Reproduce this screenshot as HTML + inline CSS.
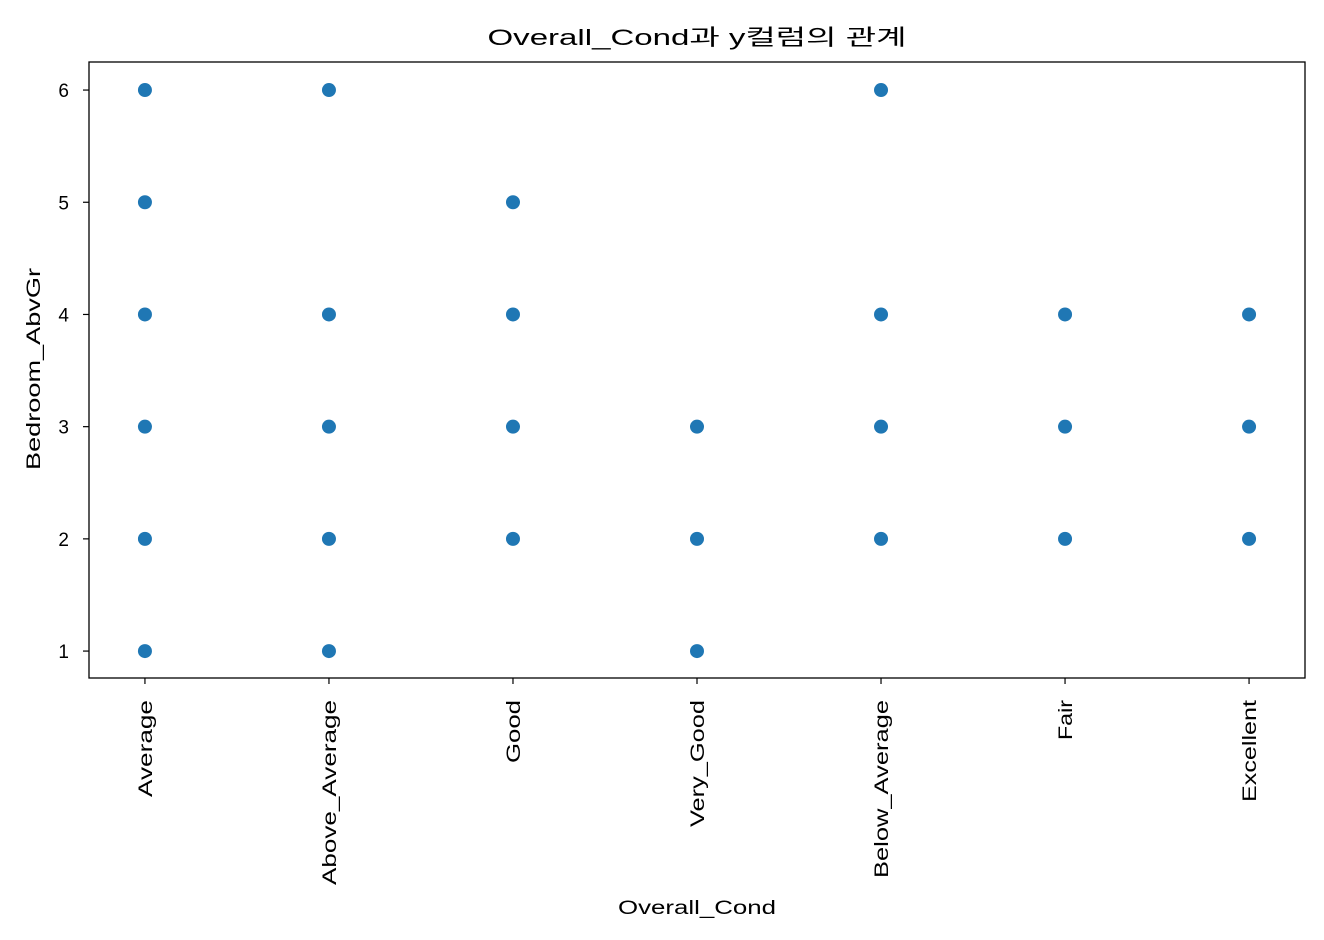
<!DOCTYPE html>
<html><head><meta charset="utf-8">
<style>
html,body{margin:0;padding:0;background:#fff;}
svg{display:block;font-family:"Liberation Sans","Noto Sans CJK KR",sans-serif;}
</style></head>
<body>
<svg id="chart" width="1324" height="940">
<text x="697" y="45" text-anchor="middle" font-size="22" textLength="419" lengthAdjust="spacingAndGlyphs" fill="#000">Overall_Cond과 y컬럼의 관계</text>
<text x="697" y="914" text-anchor="middle" font-size="19" textLength="158" lengthAdjust="spacingAndGlyphs" fill="#000">Overall_Cond</text>
<text transform="translate(40,369) rotate(-90)" text-anchor="middle" font-size="19" textLength="202" lengthAdjust="spacingAndGlyphs" fill="#000">Bedroom_AbvGr</text>
<g id="ticks"></g>
<g id="points"></g>
<rect x="89" y="62" width="1216" height="616" fill="none" stroke="#000" stroke-width="1.3"/>
</svg>
<script>
const categories = ["Average","Above_Average","Good","Very_Good","Below_Average","Fair","Excellent"];
const pointCats = [0,0,0,0,0,0, 1,1,1,1,1, 2,2,2,2, 3,3,3, 4,4,4,4, 5,5,5, 6,6,6];
const pointVals = [1,2,3,4,5,6, 1,2,3,4,6, 2,3,4,5, 1,2,3, 2,3,4,6, 2,3,4, 2,3,4];
const yTicks = [1,2,3,4,5,6];

const L=89,R=1305,T=62,B=678;
const xMin=-0.304,xMax=6.304,yMin=0.76,yMax=6.25;
const xs=v=>L+(v-xMin)/(xMax-xMin)*(R-L);
const ys=v=>B-(v-yMin)/(yMax-yMin)*(B-T);
const NS="http://www.w3.org/2000/svg";
const tg=document.getElementById('ticks'), pg=document.getElementById('points');
const labelWidthStyle={"Average":97,"Above_Average":185,"Good":63,"Very_Good":127,"Below_Average":178,"Fair":40,"Excellent":102};

categories.forEach((c,i)=>{
  const x=xs(i);
  const l=document.createElementNS(NS,'line');
  l.setAttribute('x1',x);l.setAttribute('x2',x);l.setAttribute('y1',B);l.setAttribute('y2',B+6);
  l.setAttribute('stroke','#000');l.setAttribute('stroke-width','1.2');
  
  
  tg.appendChild(l);
  const t=document.createElementNS(NS,'text');
  t.setAttribute('transform',`translate(${x+7},${B+22}) rotate(-90)`);
  t.setAttribute('text-anchor','end');t.setAttribute('font-size','19');
  if(labelWidthStyle[c]){t.setAttribute('textLength',labelWidthStyle[c]);t.setAttribute('lengthAdjust','spacingAndGlyphs');}
  t.textContent=c;
  
  
  tg.appendChild(t);
});
yTicks.forEach(v=>{
  const y=ys(v);
  const l=document.createElementNS(NS,'line');
  l.setAttribute('x1',L-6);l.setAttribute('x2',L);l.setAttribute('y1',y);l.setAttribute('y2',y);
  l.setAttribute('stroke','#000');l.setAttribute('stroke-width','1.2');
  
  
  tg.appendChild(l);
  const t=document.createElementNS(NS,'text');
  t.setAttribute('x',L-20);t.setAttribute('y',y+7);
  t.setAttribute('text-anchor','end');t.setAttribute('font-size','19');
  t.textContent=v;
  
  
  tg.appendChild(t);
});
pointVals.forEach((v,i)=>{
  const c=document.createElementNS(NS,'circle');
  c.setAttribute('cx',xs(pointCats[i]));c.setAttribute('cy',ys(v));c.setAttribute('r','7');
  c.setAttribute('fill','#1f77b4');
  
  
  pg.appendChild(c);
});
</script>
</body></html>
